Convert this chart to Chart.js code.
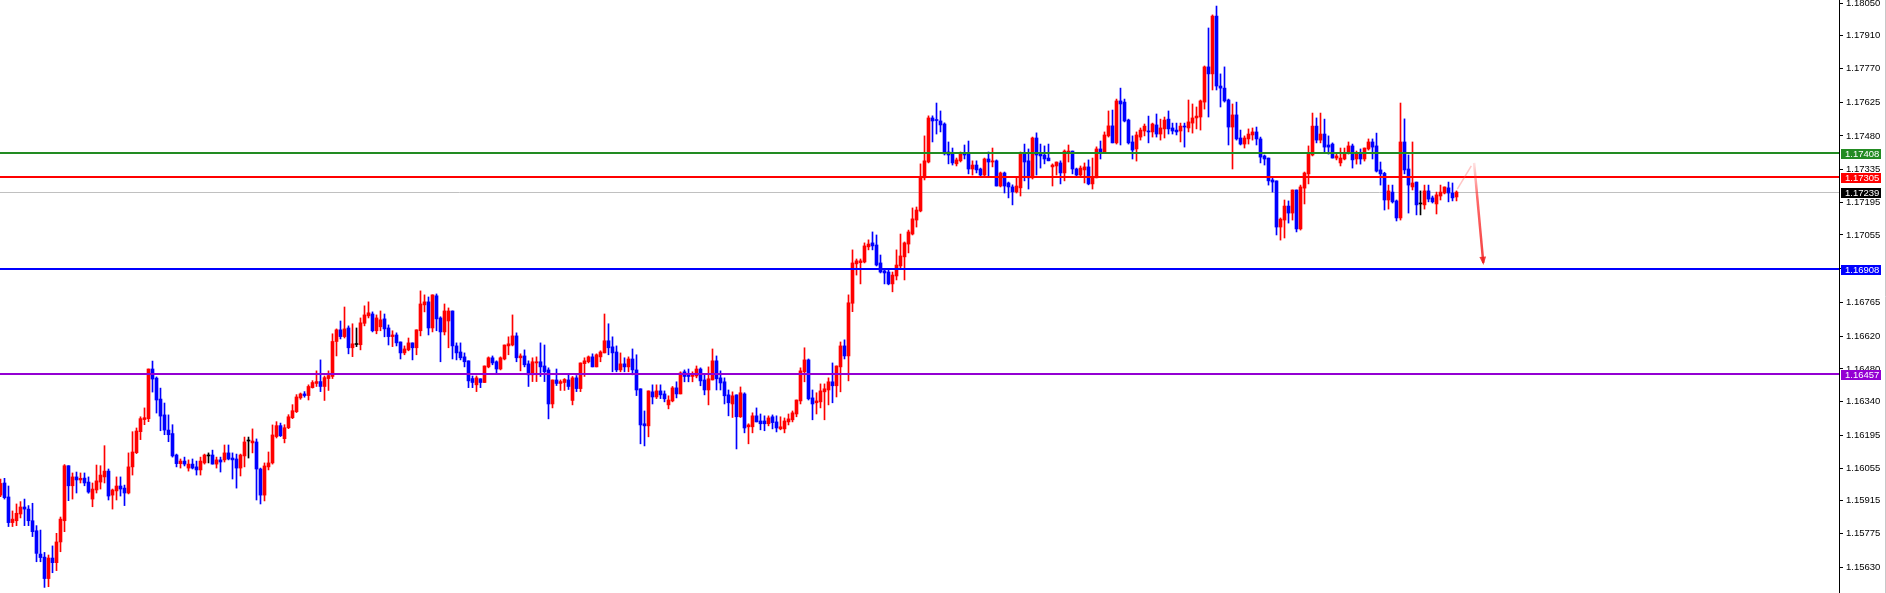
<!DOCTYPE html>
<html>
<head>
<meta charset="utf-8">
<script src="https://cdn.jsdelivr.net/npm/chart.js@4.4.1/dist/chart.umd.min.js"></script>
<style>
html, body { margin: 0; padding: 0; background: #fff; overflow: hidden; }
</style>
</head>
<body>
<canvas id="myChart" width="1886" height="593"></canvas>
<script>
// Candle values, one entry per bar (oldest first)
const open = [
1.15939,1.15991,1.15931,1.15821,1.15829,1.15858,1.15888,1.15879,1.15829,1.15786,
1.15686,1.15673,1.15581,1.15669,1.15649,1.15738,1.15829,1.16065,1.15979,1.16017,
1.16004,1.16012,1.15995,1.15922,1.15961,1.15995,1.16017,1.16042,1.15939,1.15957,
1.15978,1.15969,1.15948,1.16060,1.16121,1.16211,1.16263,1.16267,1.16480,1.16441,
1.16351,1.16283,1.16218,1.16203,1.16111,1.16074,1.16085,1.16055,1.16072,1.16060,
1.16047,1.16077,1.16107,1.16111,1.16072,1.16090,1.16090,1.16120,1.16098,1.16094,
1.16055,1.16107,1.16171,1.16163,1.16167,1.16051,1.15939,1.16060,1.16077,1.16190,
1.16237,1.16181,1.16228,1.16271,1.16297,1.16356,1.16373,1.16366,1.16400,1.16418,
1.16426,1.16405,1.16439,1.16448,1.16598,1.16648,1.16619,1.16656,1.16571,1.16585,
1.16584,1.16676,1.16708,1.16716,1.16644,1.16661,1.16695,1.16656,1.16619,1.16626,
1.16596,1.16549,1.16562,1.16592,1.16571,1.16644,1.16755,1.16768,1.16656,1.16794,
1.16699,1.16639,1.16686,1.16729,1.16579,1.16553,1.16532,1.16515,1.16439,1.16412,
1.16438,1.16422,1.16489,1.16528,1.16511,1.16480,1.16523,1.16579,1.16583,1.16622,
1.16528,1.16536,1.16502,1.16455,1.16506,1.16511,1.16493,1.16476,1.16330,1.16433,
1.16418,1.16422,1.16433,1.16345,1.16442,1.16396,1.16503,1.16511,1.16532,1.16489,
1.16532,1.16549,1.16601,1.16575,1.16553,1.16476,1.16502,1.16489,1.16523,1.16476,
1.16395,1.16245,1.16236,1.16382,1.16360,1.16386,1.16373,1.16326,1.16343,1.16399,
1.16373,1.16468,1.16459,1.16448,1.16450,1.16480,1.16433,1.16390,1.16433,1.16515,
1.16442,1.16425,1.16369,1.16330,1.16369,1.16275,1.16373,1.16232,1.16232,1.16279,
1.16257,1.16257,1.16245,1.16275,1.16253,1.16223,1.16223,1.16253,1.16262,1.16287,
1.16343,1.16468,1.16519,1.16356,1.16335,1.16339,1.16382,1.16390,1.16425,1.16408,
1.16489,1.16579,1.16536,1.16762,1.16931,1.16936,1.16939,1.17004,1.17021,1.17012,
1.16935,1.16901,1.16896,1.16845,1.16879,1.16922,1.16961,1.17016,1.17059,1.17119,
1.17158,1.17300,1.17368,1.17557,1.17549,1.17544,1.17531,1.17411,1.17403,1.17360,
1.17373,1.17407,1.17403,1.17338,1.17355,1.17338,1.17312,1.17381,1.17368,1.17373,
1.17265,1.17321,1.17278,1.17261,1.17240,1.17257,1.17407,1.17373,1.17300,1.17471,
1.17407,1.17398,1.17385,1.17347,1.17351,1.17364,1.17321,1.17407,1.17415,1.17338,
1.17312,1.17334,1.17347,1.17274,1.17300,1.17424,1.17411,1.17480,1.17523,1.17450,
1.17630,1.17625,1.17548,1.17454,1.17424,1.17475,1.17501,1.17501,1.17497,1.17527,
1.17488,1.17510,1.17552,1.17514,1.17505,1.17501,1.17522,1.17514,1.17535,1.17557,
1.17561,1.17625,1.17776,1.17746,1.17994,1.17694,1.17685,1.17634,1.17518,1.17570,
1.17471,1.17445,1.17467,1.17484,1.17497,1.17467,1.17394,1.17385,1.17291,1.17287,
1.17089,1.17119,1.17179,1.17149,1.17248,1.17081,1.17256,1.17317,1.17398,1.17522,
1.17462,1.17488,1.17441,1.17445,1.17385,1.17364,1.17381,1.17407,1.17437,1.17381,
1.17407,1.17381,1.17424,1.17454,1.17437,1.17334,1.17319,1.17205,1.17239,1.17201,
1.17128,1.17454,1.17338,1.17261,1.17282,1.17188,1.17184,1.17244,1.17214,1.17188,
1.17222,1.17235,1.17257,1.17235,1.17218
];
const high = [
1.16008,1.16011,1.15978,1.15871,1.15901,1.15911,1.15922,1.15894,1.15904,1.15808,
1.15789,1.15693,1.15682,1.15721,1.15775,1.15845,1.16070,1.16065,1.16034,1.16038,
1.16034,1.16034,1.16017,1.15991,1.16068,1.16065,1.16151,1.16051,1.15965,1.16017,
1.16017,1.15982,1.16120,1.16211,1.16227,1.16275,1.16313,1.16480,1.16514,1.16446,
1.16398,1.16334,1.16283,1.16241,1.16115,1.16094,1.16102,1.16090,1.16094,1.16085,
1.16102,1.16115,1.16120,1.16132,1.16102,1.16102,1.16154,1.16154,1.16120,1.16115,
1.16115,1.16188,1.16188,1.16223,1.16180,1.16055,1.16077,1.16124,1.16240,1.16254,
1.16248,1.16241,1.16284,1.16327,1.16370,1.16377,1.16383,1.16412,1.16430,1.16472,
1.16519,1.16450,1.16472,1.16631,1.16652,1.16686,1.16746,1.16665,1.16674,1.16656,
1.16699,1.16751,1.16768,1.16725,1.16712,1.16729,1.16716,1.16669,1.16644,1.16635,
1.16596,1.16579,1.16613,1.16592,1.16648,1.16815,1.16798,1.16789,1.16798,1.16802,
1.16704,1.16759,1.16742,1.16729,1.16592,1.16592,1.16549,1.16515,1.16450,1.16450,
1.16438,1.16493,1.16532,1.16536,1.16515,1.16532,1.16583,1.16618,1.16712,1.16635,
1.16545,1.16562,1.16515,1.16528,1.16532,1.16592,1.16583,1.16485,1.16433,1.16480,
1.16433,1.16439,1.16459,1.16448,1.16452,1.16506,1.16528,1.16536,1.16545,1.16545,
1.16558,1.16716,1.16674,1.16618,1.16579,1.16549,1.16528,1.16532,1.16566,1.16541,
1.16395,1.16300,1.16386,1.16412,1.16412,1.16412,1.16386,1.16365,1.16405,1.16425,
1.16468,1.16476,1.16480,1.16468,1.16493,1.16485,1.16455,1.16489,1.16566,1.16536,
1.16472,1.16442,1.16390,1.16382,1.16369,1.16403,1.16378,1.16245,1.16292,1.16313,
1.16287,1.16279,1.16279,1.16283,1.16279,1.16275,1.16270,1.16287,1.16300,1.16347,
1.16485,1.16571,1.16523,1.16390,1.16378,1.16416,1.16416,1.16442,1.16506,1.16493,
1.16596,1.16605,1.16798,1.16991,1.16952,1.16952,1.17021,1.17034,1.17068,1.17055,
1.16969,1.16905,1.16905,1.16896,1.16991,1.17059,1.17025,1.17076,1.17171,1.17175,
1.17360,1.17480,1.17566,1.17566,1.17621,1.17587,1.17536,1.17454,1.17428,1.17385,
1.17411,1.17441,1.17458,1.17373,1.17373,1.17342,1.17385,1.17411,1.17428,1.17377,
1.17325,1.17325,1.17282,1.17270,1.17304,1.17411,1.17445,1.17424,1.17475,1.17493,
1.17445,1.17437,1.17445,1.17360,1.17368,1.17373,1.17420,1.17441,1.17415,1.17342,
1.17351,1.17364,1.17377,1.17385,1.17433,1.17458,1.17497,1.17587,1.17591,1.17638,
1.17685,1.17638,1.17552,1.17480,1.17497,1.17514,1.17531,1.17565,1.17535,1.17574,
1.17552,1.17561,1.17587,1.17535,1.17535,1.17535,1.17535,1.17634,1.17617,1.17604,
1.17634,1.17780,1.17943,1.17999,1.18037,1.17746,1.17776,1.17638,1.17617,1.17625,
1.17505,1.17480,1.17510,1.17514,1.17518,1.17475,1.17398,1.17385,1.17304,1.17287,
1.17128,1.17205,1.17201,1.17248,1.17248,1.17269,1.17325,1.17437,1.17578,1.17557,
1.17578,1.17552,1.17480,1.17450,1.17407,1.17428,1.17428,1.17454,1.17445,1.17415,
1.17424,1.17428,1.17467,1.17467,1.17492,1.17368,1.17324,1.17269,1.17269,1.17205,
1.17621,1.17553,1.17398,1.17454,1.17282,1.17244,1.17269,1.17269,1.17222,1.17239,
1.17269,1.17261,1.17282,1.17278,1.17244
];
const low = [
1.15932,1.15922,1.15804,1.15804,1.15808,1.15841,1.15808,1.15808,1.15761,1.15653,
1.15653,1.15543,1.15546,1.15606,1.15615,1.15696,1.15782,1.15915,1.15922,1.15948,
1.15991,1.15979,1.15947,1.15889,1.15948,1.15965,1.15991,1.15918,1.15879,1.15918,
1.15935,1.15894,1.15944,1.16025,1.16117,1.16177,1.16241,1.16254,1.16381,1.16291,
1.16215,1.16198,1.16168,1.16102,1.16060,1.16055,1.16064,1.16042,1.16051,1.16025,
1.16025,1.16072,1.16077,1.16072,1.16055,1.16038,1.16081,1.16090,1.16008,1.15969,
1.16021,1.16060,1.16098,1.16120,1.15918,1.15901,1.15914,1.16047,1.16072,1.16184,
1.16190,1.16163,1.16224,1.16267,1.16293,1.16350,1.16359,1.16347,1.16398,1.16405,
1.16383,1.16345,1.16388,1.16439,1.16536,1.16609,1.16613,1.16545,1.16533,1.16576,
1.16562,1.16665,1.16699,1.16639,1.16631,1.16644,1.16618,1.16583,1.16576,1.16579,
1.16523,1.16541,1.16558,1.16519,1.16541,1.16622,1.16725,1.16626,1.16639,1.16644,
1.16511,1.16626,1.16571,1.16523,1.16519,1.16519,1.16489,1.16400,1.16400,1.16383,
1.16400,1.16422,1.16485,1.16498,1.16463,1.16476,1.16519,1.16541,1.16579,1.16511,
1.16472,1.16489,1.16405,1.16426,1.16426,1.16448,1.16426,1.16266,1.16313,1.16409,
1.16388,1.16388,1.16392,1.16326,1.16383,1.16383,1.16448,1.16506,1.16489,1.16489,
1.16511,1.16549,1.16541,1.16468,1.16468,1.16468,1.16468,1.16468,1.16455,1.16366,
1.16159,1.16150,1.16189,1.16330,1.16353,1.16353,1.16339,1.16309,1.16339,1.16356,
1.16373,1.16425,1.16425,1.16425,1.16442,1.16408,1.16369,1.16326,1.16433,1.16390,
1.16390,1.16330,1.16279,1.16272,1.16137,1.16272,1.16206,1.16159,1.16206,1.16253,
1.16219,1.16215,1.16236,1.16223,1.16210,1.16219,1.16206,1.16240,1.16253,1.16275,
1.16330,1.16425,1.16347,1.16262,1.16287,1.16313,1.16262,1.16326,1.16335,1.16360,
1.16382,1.16523,1.16429,1.16726,1.16883,1.16845,1.16935,1.16991,1.16991,1.16922,
1.16892,1.16845,1.16841,1.16811,1.16862,1.16913,1.16862,1.16978,1.17055,1.17089,
1.17154,1.17291,1.17364,1.17454,1.17488,1.17497,1.17398,1.17360,1.17355,1.17351,
1.17368,1.17381,1.17317,1.17312,1.17321,1.17304,1.17308,1.17308,1.17347,1.17265,
1.17261,1.17235,1.17214,1.17184,1.17235,1.17222,1.17287,1.17252,1.17295,1.17312,
1.17342,1.17360,1.17373,1.17265,1.17312,1.17274,1.17287,1.17368,1.17317,1.17308,
1.17308,1.17278,1.17270,1.17252,1.17300,1.17381,1.17407,1.17475,1.17450,1.17445,
1.17441,1.17540,1.17445,1.17381,1.17372,1.17462,1.17480,1.17450,1.17475,1.17475,
1.17462,1.17471,1.17488,1.17488,1.17484,1.17454,1.17432,1.17497,1.17492,1.17510,
1.17505,1.17595,1.17561,1.17677,1.17677,1.17604,1.17625,1.17441,1.17338,1.17462,
1.17441,1.17428,1.17445,1.17462,1.17441,1.17364,1.17355,1.17269,1.17239,1.17055,
1.17033,1.17042,1.17106,1.17119,1.17068,1.17076,1.17188,1.17274,1.17394,1.17450,
1.17450,1.17407,1.17402,1.17385,1.17377,1.17351,1.17377,1.17402,1.17342,1.17359,
1.17359,1.17372,1.17419,1.17381,1.17325,1.17269,1.17162,1.17166,1.17192,1.17115,
1.17119,1.17317,1.17149,1.17248,1.17141,1.17141,1.17166,1.17197,1.17192,1.17145,
1.17205,1.17231,1.17197,1.17201,1.17201
];
const close = [
1.15989,1.15928,1.15821,1.15836,1.15861,1.15888,1.15879,1.15829,1.15782,1.15689,
1.15671,1.15581,1.15669,1.15649,1.15738,1.15836,1.16065,1.15979,1.16017,1.16004,
1.16011,1.15991,1.15952,1.15965,1.16000,1.16025,1.16042,1.15935,1.15961,1.15978,
1.15965,1.15948,1.16060,1.16124,1.16214,1.16267,1.16271,1.16480,1.16437,1.16347,
1.16278,1.16218,1.16198,1.16107,1.16074,1.16085,1.16072,1.16072,1.16055,1.16047,
1.16085,1.16111,1.16107,1.16072,1.16090,1.16081,1.16120,1.16094,1.16090,1.16055,
1.16111,1.16167,1.16171,1.16171,1.16051,1.15939,1.16064,1.16077,1.16197,1.16237,
1.16194,1.16228,1.16275,1.16301,1.16360,1.16373,1.16366,1.16405,1.16422,1.16426,
1.16405,1.16443,1.16452,1.16598,1.16648,1.16619,1.16652,1.16571,1.16588,1.16585,
1.16678,1.16712,1.16721,1.16644,1.16699,1.16691,1.16652,1.16619,1.16626,1.16592,
1.16549,1.16566,1.16592,1.16571,1.16648,1.16759,1.16768,1.16656,1.16798,1.16695,
1.16639,1.16729,1.16729,1.16579,1.16549,1.16528,1.16511,1.16429,1.16422,1.16442,
1.16422,1.16493,1.16528,1.16506,1.16480,1.16528,1.16583,1.16588,1.16622,1.16528,
1.16536,1.16498,1.16455,1.16511,1.16511,1.16489,1.16468,1.16330,1.16433,1.16418,
1.16426,1.16435,1.16405,1.16442,1.16396,1.16506,1.16515,1.16532,1.16489,1.16541,
1.16553,1.16601,1.16571,1.16549,1.16476,1.16502,1.16489,1.16523,1.16476,1.16390,
1.16240,1.16236,1.16386,1.16360,1.16386,1.16369,1.16352,1.16347,1.16399,1.16373,
1.16463,1.16448,1.16448,1.16455,1.16480,1.16429,1.16390,1.16438,1.16515,1.16438,
1.16420,1.16365,1.16335,1.16365,1.16275,1.16378,1.16227,1.16240,1.16279,1.16253,
1.16245,1.16245,1.16270,1.16250,1.16227,1.16232,1.16257,1.16266,1.16292,1.16347,
1.16472,1.16519,1.16352,1.16330,1.16343,1.16386,1.16395,1.16425,1.16408,1.16493,
1.16579,1.16536,1.16764,1.16935,1.16944,1.16944,1.17008,1.17016,1.17008,1.16926,
1.16896,1.16892,1.16845,1.16883,1.16926,1.16965,1.17021,1.17068,1.17124,1.17162,
1.17305,1.17373,1.17557,1.17544,1.17546,1.17527,1.17403,1.17398,1.17364,1.17377,
1.17403,1.17398,1.17338,1.17355,1.17334,1.17312,1.17381,1.17368,1.17373,1.17265,
1.17321,1.17265,1.17261,1.17240,1.17265,1.17407,1.17368,1.17300,1.17471,1.17398,
1.17394,1.17381,1.17373,1.17355,1.17368,1.17321,1.17415,1.17415,1.17338,1.17312,
1.17342,1.17347,1.17274,1.17304,1.17424,1.17411,1.17484,1.17523,1.17450,1.17630,
1.17617,1.17544,1.17450,1.17419,1.17484,1.17505,1.17522,1.17497,1.17531,1.17488,
1.17514,1.17548,1.17510,1.17501,1.17497,1.17522,1.17518,1.17540,1.17557,1.17565,
1.17630,1.17776,1.17746,1.17994,1.17694,1.17685,1.17630,1.17518,1.17570,1.17467,
1.17445,1.17471,1.17488,1.17497,1.17467,1.17389,1.17381,1.17287,1.17282,1.17089,
1.17123,1.17179,1.17149,1.17248,1.17081,1.17261,1.17321,1.17402,1.17522,1.17462,
1.17488,1.17432,1.17432,1.17385,1.17394,1.17385,1.17407,1.17437,1.17377,1.17407,
1.17381,1.17428,1.17454,1.17432,1.17329,1.17317,1.17205,1.17244,1.17197,1.17128,
1.17454,1.17334,1.17269,1.17278,1.17184,1.17188,1.17244,1.17209,1.17197,1.17227,
1.17239,1.17261,1.17235,1.17214,1.17239
];

// Price scale labels on the right
const priceTicks = [1.18050, 1.17910, 1.17770, 1.17625, 1.17480, 1.17335, 1.17195, 1.17055, 1.16910,
    1.16765, 1.16620, 1.16480, 1.16340, 1.16195, 1.16055, 1.15915, 1.15775, 1.15630];

// Horizontal levels: line colour and price tag colour
const levelPrices = [1.17408, 1.17305, 1.16908, 1.16457];
const levelColors = ['#228b22', '#ff0000', '#0000ff', '#9400d3'];
const bidPrice = 1.17239;

// Hand-drawn forecast arrow (bar index, price)
const arrowUp = [[364.2, 1.17252], [367.7, 1.17351]];
const arrowDown = [[368.4, 1.17364], [370.7, 1.16935]];

const FONT_FAMILY = "'Liberation Sans', Arial, sans-serif";
const FONT_SIZE = 9.5;
const n = Math.min(open.length, high.length, low.length, close.length);
const idx = Array.from({ length: n }, (_, i) => i);
const candleColors = idx.map(i => close[i] > open[i] ? '#ff0000' : (close[i] < open[i] ? '#0000ff' : '#000000'));

// Lines, price tags and arrow drawn on top of the candles
const overlay = {
    id: 'overlay',
    beforeDatasetsDraw(chart) {
        const { ctx, chartArea: a, scales: { y } } = chart;
        const py = Math.round(y.getPixelForValue(bidPrice)) + 0.5;
        ctx.save();
        ctx.strokeStyle = '#c0c0c0';
        ctx.lineWidth = 1;
        ctx.beginPath();
        ctx.moveTo(a.left, py);
        ctx.lineTo(a.right, py);
        ctx.stroke();
        ctx.restore();
    },
    afterDatasetsDraw(chart) {
        const { ctx, chartArea: a, scales: { x, y } } = chart;
        ctx.save();
        levelPrices.forEach((p, i) => {
            const py = Math.round(y.getPixelForValue(p));
            ctx.strokeStyle = levelColors[i];
            ctx.lineWidth = 2;
            ctx.beginPath();
            ctx.moveTo(a.left, py);
            ctx.lineTo(a.right, py);
            ctx.stroke();
        });

        // faint rising stroke
        ctx.strokeStyle = 'rgba(255,90,90,0.35)';
        ctx.lineWidth = 1.5;
        ctx.beginPath();
        ctx.moveTo(x.getPixelForValue(arrowUp[0][0]), y.getPixelForValue(arrowUp[0][1]));
        ctx.lineTo(x.getPixelForValue(arrowUp[1][0]), y.getPixelForValue(arrowUp[1][1]));
        ctx.stroke();

        // falling arrow
        const x1 = x.getPixelForValue(arrowDown[0][0]), y1 = y.getPixelForValue(arrowDown[0][1]);
        const x2 = x.getPixelForValue(arrowDown[1][0]), y2 = y.getPixelForValue(arrowDown[1][1]);
        const grad = ctx.createLinearGradient(x1, y1, x2, y2);
        grad.addColorStop(0, 'rgba(255,60,60,0.15)');
        grad.addColorStop(0.35, 'rgba(255,40,40,0.7)');
        grad.addColorStop(1, 'rgba(240,30,30,0.85)');
        ctx.strokeStyle = grad;
        ctx.lineWidth = 2.5;
        ctx.beginPath();
        ctx.moveTo(x1, y1);
        ctx.lineTo(x2, y2);
        ctx.stroke();
        const ang = Math.atan2(y2 - y1, x2 - x1);
        ctx.fillStyle = 'rgba(240,30,30,0.85)';
        ctx.beginPath();
        ctx.moveTo(x2 + Math.cos(ang) * 2, y2 + Math.sin(ang) * 2);
        ctx.lineTo(x2 - Math.cos(ang - 0.5) * 7, y2 - Math.sin(ang - 0.5) * 7);
        ctx.lineTo(x2 - Math.cos(ang + 0.5) * 7, y2 - Math.sin(ang + 0.5) * 7);
        ctx.closePath();
        ctx.fill();
        ctx.restore();
    },
    afterDraw(chart) {
        const { ctx, chartArea: a, scales: { y } } = chart;
        ctx.save();
        ctx.font = FONT_SIZE + 'px ' + FONT_FAMILY;
        ctx.textBaseline = 'middle';
        ctx.textAlign = 'left';
        const tags = levelPrices.map((p, i) => [p, levelColors[i]]);
        tags.push([bidPrice, '#000000']);
        tags.forEach(([p, c]) => {
            const py = Math.round(y.getPixelForValue(p));
            ctx.fillStyle = c;
            ctx.fillRect(a.right + 2, py - 4, 40, 10);
            ctx.fillStyle = '#ffffff';
            ctx.fillText(p.toFixed(5), a.right + 6, py + 1);
        });
        // thin frame on the far right
        ctx.strokeStyle = '#c8c8c8';
        ctx.lineWidth = 1;
        ctx.beginPath();
        ctx.moveTo(chart.width - 0.5, 0);
        ctx.lineTo(chart.width - 0.5, chart.height);
        ctx.stroke();
        ctx.restore();
    }
};

new Chart(document.getElementById('myChart'), {
    type: 'bar',
    data: {
        datasets: [
            {
                label: 'body',
                data: idx.map(i => ({ x: i, y: [open[i], close[i]] })),
                backgroundColor: candleColors,
                barThickness: 3,
                minBarLength: 1,
                grouped: false,
                order: 1
            },
            {
                label: 'wick',
                data: idx.map(i => ({ x: i, y: [low[i], high[i]] })),
                backgroundColor: candleColors,
                barThickness: 1,
                minBarLength: 1,
                grouped: false,
                order: 2
            }
        ]
    },
    options: {
        responsive: false,
        animation: false,
        devicePixelRatio: 1,
        layout: { padding: 0 },
        plugins: { legend: { display: false }, tooltip: { enabled: false } },
        scales: {
            x: {
                type: 'linear',
                min: -0.125,
                max: 459.625,
                offset: false,
                display: false
            },
            y: {
                type: 'linear',
                position: 'right',
                min: 1.15519,
                max: 1.18063,
                afterFit(scale) {
                    scale.width = 47;
                    scale.paddingTop = 0;
                    scale.paddingBottom = 0;
                },
                afterBuildTicks(scale) {
                    scale.ticks = priceTicks.map(v => ({ value: v }));
                },
                border: { display: true, color: '#000000', width: 1 },
                grid: { drawOnChartArea: false, drawTicks: true, tickLength: 4, color: '#000000' },
                ticks: {
                    autoSkip: false,
                    padding: 3,
                    color: '#000000',
                    font: { family: FONT_FAMILY, size: FONT_SIZE },
                    callback: v => Number(v).toFixed(5)
                }
            }
        }
    },
    plugins: [overlay]
});
</script>
</body>
</html>
